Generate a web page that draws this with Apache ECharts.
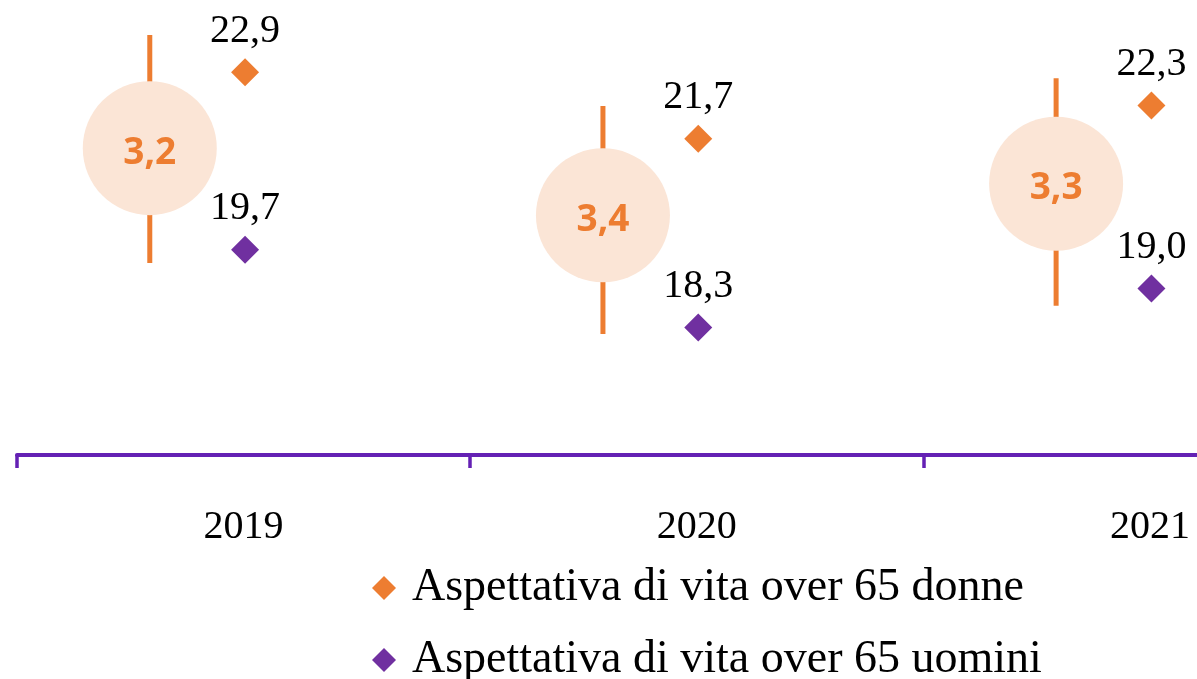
<!DOCTYPE html>
<html><head><meta charset="utf-8">
<script src="https://cdn.jsdelivr.net/npm/echarts@6/dist/echarts.min.js"></script>
<style>html,body{margin:0;padding:0;background:#fff}#c{width:1197px;height:679px}</style>
</head><body><div id="c"></div>
<script>
// Data
const years = ['2019', '2020', '2021'];
const donne = [22.9, 21.7, 22.3];        // Aspettativa di vita over 65 donne
const uomini = [19.7, 18.3, 19.0];       // Aspettativa di vita over 65 uomini
const gap = [3.2, 3.4, 3.3];             // differenza donne - uomini
const gapCenter = [21.53, 20.32, 20.89]; // centre of the bubble (value scale)
const rangeHigh = [23.57, 22.29, 22.79]; // top of vertical bar
const rangeLow = [19.46, 18.18, 18.69];  // bottom of vertical bar
const seriesNames = ['Aspettativa di vita over 65 donne', 'Aspettativa di vita over 65 uomini'];

const fmt = v => Number(v).toFixed(1).replace('.', ',');
const ORANGE = '#ED7D31', PURPLE = '#7030A0', AXIS = '#6421B4';
const SERIF = '"Liberation Serif", "Times New Roman", serif';

const gapData = years.map((y, i) => [i, rangeHigh[i], rangeLow[i], gapCenter[i], gap[i]]);

const legendBase = {
  orient: 'horizontal', left: 367, itemWidth: 24, itemHeight: 24,
  textStyle: {fontSize: 46, fontFamily: SERIF, color: '#000', padding: [4, 0, 0, 11]}
};

const chart = echarts.init(document.getElementById('c'), null, {renderer: 'canvas'});
chart.setOption({
  animation: false,
  backgroundColor: '#fff',
  grid: {left: 17, right: -179.5, top: 0, bottom: 224, containLabel: false, outerBoundsMode: 'none'},
  xAxis: {
    type: 'category', data: years, boundaryGap: true,
    axisLine: {show: true, lineStyle: {color: AXIS, width: 4}},
    axisTick: {show: true, length: 13, lineStyle: {color: AXIS, width: 3.5}},
    axisLabel: {margin: 52, fontSize: 40, fontFamily: SERIF, color: '#000'},
    splitLine: {show: false}
  },
  yAxis: {
    type: 'value', min: 16, max: 24.2, show: false
  },
  legend: [
    Object.assign({}, legendBase, {top: 560, data: [{name: seriesNames[0], icon: 'diamond'}]}),
    Object.assign({}, legendBase, {top: 632, data: [{name: seriesNames[1], icon: 'diamond'}]})
  ],
  series: [
    {
      type: 'custom', name: 'gap', silent: true,
      data: gapData,
      renderItem: function (params, api) {
        const i = api.value(0);
        const c = api.coord([i, api.value(3)]);
        const hi = api.coord([i, api.value(1)]);
        const lo = api.coord([i, api.value(2)]);
        const band = api.size([1, 0])[0];
        const x = c[0] - band * 0.207;
        return {
          type: 'group', children: [
            {type: 'line', shape: {x1: x, y1: hi[1], x2: x, y2: lo[1]}, style: {stroke: ORANGE, lineWidth: 5}},
            {type: 'circle', shape: {cx: x, cy: c[1], r: 67}, style: {fill: '#FBE5D6'}},
            {type: 'text', x: x, y: c[1] + 5, style: {text: fmt(api.value(4)), fill: ORANGE, font: 'bold 37px "Open Sans"', align: 'center', verticalAlign: 'middle'}}
          ]
        };
      }
    },
    {
      type: 'scatter', name: seriesNames[0],
      data: donne, symbol: 'diamond', symbolSize: 28, symbolOffset: [1.5, 0],
      itemStyle: {color: ORANGE, opacity: 1},
      label: {show: true, position: 'top', distance: 7, formatter: p => fmt(p.value), fontSize: 40, fontFamily: SERIF, color: '#000', opacity: 1}
    },
    {
      type: 'scatter', name: seriesNames[1],
      data: uomini, symbol: 'diamond', symbolSize: 28, symbolOffset: [1.5, 0],
      itemStyle: {color: PURPLE, opacity: 1},
      label: {show: true, position: 'top', distance: 7, formatter: p => fmt(p.value), fontSize: 40, fontFamily: SERIF, color: '#000', opacity: 1}
    }
  ]
});
</script></body></html>
